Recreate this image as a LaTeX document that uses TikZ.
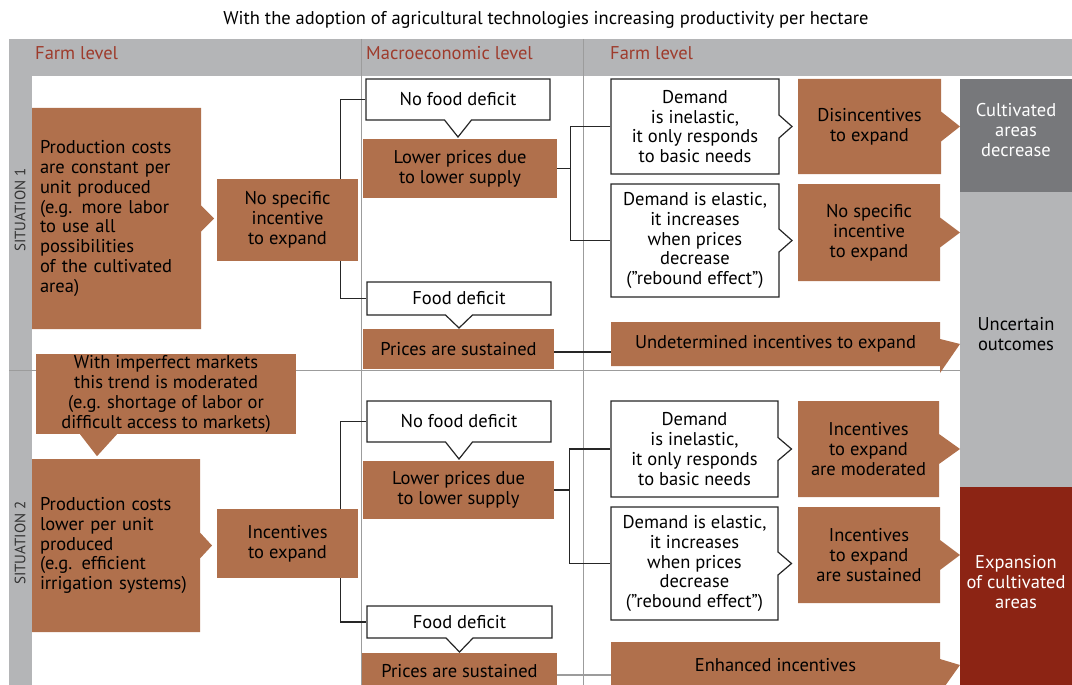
\documentclass[tikz,border=0pt]{standalone}
\usepackage{fontspec}
\setmainfont{PT Sans}
\usetikzlibrary{shapes.callouts}
\definecolor{brn}{HTML}{B0704C}
\definecolor{framegray}{HTML}{B4B5B7}
\definecolor{darkgray}{HTML}{77787B}
\definecolor{darkred}{HTML}{8C2414}
\definecolor{headred}{HTML}{9E3B2C}
\definecolor{divgray}{HTML}{9C9C9C}
\pgfdeclarelayer{back}
\pgfsetlayers{back,main}
\tikzset{
  sz/.style 2 args={minimum width=#1pt,minimum height=#2pt},
  brownbox/.style={fill=brn,align=center,inner sep=0pt},
  brownarrow/.style={brownbox,rectangle callout,callout pointer width=#1pt},
  whitebox/.style={rectangle callout,draw=black!85,fill=white,line width=1.2pt,
    align=center,inner sep=0pt,callout pointer width=#1pt},
  leftbox/.style={brownarrow=26,align=left,inner sep=8pt,text width=#1pt},
  outcome/.style={align=center,inner sep=0pt},
  head/.style={anchor=west,inner sep=0pt,text=headred},
  situ/.style={rotate=90,inner sep=0pt,text=black!80,font=\fontsize{15}{18}\selectfont},
  link/.style={line width=1.1pt,black!85}
}
\begin{document}
\begin{tikzpicture}[x=1pt,y=-1pt,font=\fontsize{18.5}{19.8}\selectfont]
\useasboundingbox (0,0) rectangle (1072,685);
\clip (0,0) rectangle (1072,685);

\begin{pgfonlayer}{back}
\fill[framegray] (9,39) rectangle (1072,76);
\fill[framegray] (9,39) rectangle (32,685);
\draw[divgray,line width=1pt] (361,39) -- (361,685);
\draw[divgray,line width=1pt] (583,39) -- (583,685);
\draw[divgray,line width=1pt] (9,370) -- (960,370);
\fill[darkgray] (960,79) rectangle (1072,192);
\fill[framegray] (960,192) rectangle (1072,487);
\fill[darkred] (960,487) rectangle (1072,685);
\end{pgfonlayer}

\node[font=\fontsize{18.5}{20}\selectfont] (title) at (546,20) {With the adoption of agricultural technologies increasing productivity per hectare};
\node[head] (hfarm1) at (35,53) {Farm level};
\node[head] (hmacro) at (366,53) {Macroeconomic level};
\node[head] (hfarm2) at (610,53) {Farm level};
\node[situ] (sit1) at (20,210) {SITUATION 1};
\node[situ] (sit2) at (20,543) {SITUATION 2};

\node[leftbox=153,minimum height=221pt,callout absolute pointer={(214,218.5)}] (pcost1) at (116.5,218.5) {Production costs\\are constant per\\unit produced\\(e.g. more labor\\to use all\\possibilities\\of the cultivated\\area)};
\node[brownbox,sz={141}{82}] (noinc1) at (287.5,220) {No specific\\incentive\\to expand};
\node[whitebox=27,sz={184}{41},callout absolute pointer={(458,137)}] (nodef1) at (458,99.5) {No food deficit};
\node[brownbox,sz={194}{59}] (lowp1) at (460,168.5) {Lower prices due\\to lower supply};
\node[whitebox=27,sz={184}{33},callout absolute pointer={(459,328)}] (fdef1) at (459,298.5) {Food deficit};
\node[brownbox,sz={191}{40}] (psus1) at (458.5,349) {Prices are sustained};
\node[whitebox=23,sz={168}{95},callout absolute pointer={(792,126.5)}] (inel1) at (695,126.5) {Demand\\is inelastic,\\it only responds\\to basic needs};
\node[whitebox=23,sz={168}{113},callout absolute pointer={(792,240.5)}] (elas1) at (695,240.5) {Demand is elastic,\\it increases\\when prices\\decrease\\(”rebound effect”)};
\node[brownarrow=30,sz={143}{95},callout absolute pointer={(960,126.5)}] (disinc1) at (869.5,126.5) {Disincentives\\to expand};
\node[brownarrow=30,sz={142}{97},callout absolute pointer={(960,232.5)}] (noinc1r) at (869,232.5) {No specific\\incentive\\to expand};
\node[brownarrow=34,sz={329}{44},callout absolute pointer={(960,344)}] (undet1) at (775.5,344) {Undetermined incentives to expand};

\node[outcome,text=white] (cadec) at (1016,130) {Cultivated\\areas\\decrease};
\node[outcome] (uncert) at (1016,334) {Uncertain\\outcomes};
\node[outcome,text=white] (expand) at (1016,582) {Expansion\\of cultivated\\areas};

\node[brownbox,sz={260}{80}] (imperf) at (166,394) {With imperfect markets\\this trend is moderated\\(e.g. shortage of labor or\\difficult access to markets)};
\fill[brn] ([xshift=-86pt]imperf.south) -- ([xshift=-49pt]imperf.south) -- ([xshift=-69pt,yshift=-22pt]imperf.south) -- cycle;
\node[leftbox=152,minimum height=173pt,callout absolute pointer={(212,545.5)}] (pcost2) at (116,545.5) {Production costs\\lower per unit\\produced\\(e.g. efficient\\irrigation systems)};
\node[brownbox,sz={141}{69}] (inc2) at (287.5,543.5) {Incentives\\to expand};
\node[whitebox=27,sz={184}{41},callout absolute pointer={(459,459)}] (nodef2) at (459,421.5) {No food deficit};
\node[brownbox,sz={191}{58}] (lowp2) at (458.5,490) {Lower prices due\\to lower supply};
\node[whitebox=27,sz={185}{32},callout absolute pointer={(459.5,652)}] (fdef2) at (459.5,622) {Food deficit};
\node[brownbox,sz={195}{36}] (psus2) at (459.5,671) {Prices are sustained};
\node[whitebox=23,sz={167}{96},callout absolute pointer={(791.5,449)}] (inel2) at (694.5,449) {Demand\\is inelastic,\\it only responds\\to basic needs};
\node[whitebox=23,sz={167}{113},callout absolute pointer={(791.5,563.5)}] (elas2) at (694.5,563.5) {Demand is elastic,\\it increases\\when prices\\decrease\\(”rebound effect”)};
\node[brownarrow=30,sz={141}{96},callout absolute pointer={(960,449)}] (incmod2) at (868.5,449) {Incentives\\to expand\\are moderated};
\node[brownarrow=30,sz={142}{96},callout absolute pointer={(960,555)}] (incsus2) at (869,555) {Incentives\\to expand\\are sustained};
\node[brownarrow=34,sz={329}{46},callout absolute pointer={(960,665)}] (enh2) at (775.5,665) {Enhanced incentives};

\begin{pgfonlayer}{back}
\draw[link] (nodef1.west) -- ++(-25,0) |- (fdef1.west);
\draw[link] (lowp1.east) -- ++(13,0) coordinate (j1);
\draw[link] (inel1.west) -| (j1) |- (elas1.west);
\draw[link] ([yshift=-3pt]psus1.east) -- ([yshift=-3pt]psus1.east -| undet1.west);
\draw[link] (nodef2.west) -- ++(-26,0) |- (fdef2.west);
\draw[link] (lowp2.east) -- ++(15,0) coordinate (j2);
\draw[link] (inel2.west) -| (j2) |- (elas2.west);
\draw[link,divgray] ([yshift=-4pt]psus2.east) -- ([yshift=-4pt]psus2.east -| enh2.west);
\end{pgfonlayer}
\end{tikzpicture}
\end{document}
